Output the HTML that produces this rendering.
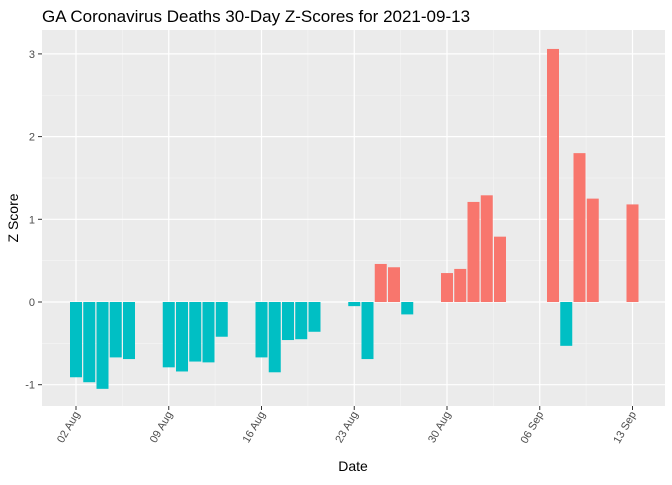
<!DOCTYPE html>
<html><head><meta charset="utf-8"><style>
body{margin:0;background:#fff;font-family:"Liberation Sans",sans-serif}
</style></head><body>
<svg id="chart" width="672" height="480" xmlns="http://www.w3.org/2000/svg">
<text x="42" y="22" font-size="17" fill="#000">GA Coronavirus Deaths 30-Day Z-Scores for 2021-09-13</text>
<rect x="42" y="30" width="623" height="376" fill="#EBEBEB"/>
<g id="grid"></g><g id="bars"></g><g id="axes"></g>
<text x="353" y="471" font-size="14" text-anchor="middle">Date</text>
<text transform="translate(18,218) rotate(-90)" font-size="14" text-anchor="middle">Z Score</text>
</svg>
<script>
const days = [0,1,2,3,4,7,8,9,10,11,14,15,16,17,18,21,22,23,24,25,28,29,30,31,32,36,37,38,39,42];
const zscores = [-0.91,-0.97,-1.05,-0.67,-0.69,-0.79,-0.84,-0.72,-0.73,-0.42,-0.67,-0.85,-0.46,-0.45,-0.36,-0.05,-0.69,0.46,0.42,-0.15,0.35,0.40,1.21,1.29,0.79,3.06,-0.53,1.80,1.25,1.18];
const xTickDays = [0,7,14,21,28,35,42];
const xTickLabels = ["02 Aug","09 Aug","16 Aug","23 Aug","30 Aug","06 Sep","13 Sep"];
const yTicks = [-1,0,1,2,3];
const NS="http://www.w3.org/2000/svg";
const X = d => 76 + d*13.25;
const Y = v => 302 - v*82.7;
function mk(tag, attrs, parent){const e=document.createElementNS(NS,tag);for(const k in attrs)e.setAttribute(k,attrs[k]);parent.appendChild(e);return e;}
const grid=document.getElementById('grid'), bars=document.getElementById('bars'), axes=document.getElementById('axes');
// minor grid
for(let v=-0.5; v<=2.5; v+=1){const l=mk('line',{x1:42,x2:665,y1:Y(v),y2:Y(v),stroke:'#F5F5F5','stroke-width':0.6},grid);

}
for(let d=-3.5; d<=45; d+=7){if(X(d)<42||X(d)>665)continue;const l=mk('line',{x1:X(d),x2:X(d),y1:30,y2:406,stroke:'#F5F5F5','stroke-width':0.6},grid);

}
yTicks.forEach(v=>{const l=mk('line',{x1:42,x2:665,y1:Y(v),y2:Y(v),stroke:'#fff','stroke-width':1.2},grid);


mk('line',{x1:38,x2:42,y1:Y(v),y2:Y(v),stroke:'#333'},axes);
const t=mk('text',{x:35,y:Y(v)+4,'font-size':11,'text-anchor':'end',fill:'#4D4D4D'},axes);t.textContent=v;

});
xTickDays.forEach((d,i)=>{const l=mk('line',{x1:X(d),x2:X(d),y1:30,y2:406,stroke:'#fff','stroke-width':1.2},grid);


mk('line',{x1:X(d),x2:X(d),y1:406,y2:410,stroke:'#333'},axes);
const t=mk('text',{transform:`translate(${X(d)+4},${414}) rotate(-60)`,'font-size':11,'text-anchor':'end',fill:'#4D4D4D'},axes);t.textContent=xTickLabels[i];

});
days.forEach((d,i)=>{const v=zscores[i];const y0=Y(0),y1=Y(v);
const b=mk('rect',{x:X(d)-6,width:12,y:Math.min(y0,y1),height:Math.abs(y1-y0),fill:v>0?'#F8766D':'#00BFC4'},bars);

});
</script>
</body></html>
